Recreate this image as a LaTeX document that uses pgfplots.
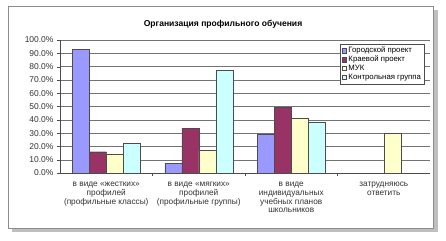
\documentclass[border=0pt]{standalone}
\usepackage{pgfplots}
\pgfplotsset{compat=1.18}
\usepackage{fontspec}
\setmainfont{Liberation Sans}
\definecolor{gorod}{HTML}{9999FF}
\definecolor{kraev}{HTML}{993366}
\definecolor{muk}{HTML}{FFFFCC}
\definecolor{kontr}{HTML}{CCFFFF}
\begin{document}
\begin{tikzpicture}[x=1bp,y=1bp]
\path[use as bounding box] (0,0) rectangle (446,240);
% frame with shadow
\fill[black!25] (12,8) rectangle (438,230);
\fill[white,draw=black!45] (8,12) rectangle (433,234);
\node[font=\bfseries\fontsize{8.6}{10}\selectfont] at (223,216) {Организация профильного обучения};
\begin{axis}[
    at={(60bp,67bp)}, anchor=south west,
    scale only axis, width=370bp, height=133bp,
    ybar=0pt, bar width=17bp,
    xmin=-0.5, xmax=3.5, ymin=0, ymax=100,
    axis lines=left, axis line style={-, black!70},
    ytick={0,10,...,100},
    yticklabel={\pgfmathprintnumber[fixed,fixed zerofill,precision=1]{\tick}\%},
    /pgf/number format/assume math mode=true,
    ymajorgrids, grid style={black!55},
    y tick style={black!70}, tick align=outside, major tick length=3bp,
    xtick={0,1,2,3},
    xticklabels={{в виде «жестких»\\профилей\\(профильные классы)},
                 {в виде «мягких»\\профилей\\(профильные группы)},
                 {в виде\\индивидуальных\\учебных планов\\школьников},
                 {затрудняюсь\\ответить}},
    x tick label style={align=center, font=\fontsize{8.3}{8.7}\selectfont, text=black!80, yshift=-3bp},
    x tick style={draw=none},
    extra x ticks={0.5,1.5,2.5},
    extra x tick labels={},
    extra x tick style={x tick style={draw=black!70}, xticklabel style={draw=none}},
    y tick label style={font=\fontsize{8.5}{10}\selectfont, text=black!80},
    legend style={at={(0.984,0.97)}, anchor=north east, font=\fontsize{7.8}{9}\selectfont,
        draw=black!70, inner sep=1bp, row sep=-2.2bp, cells={anchor=west}},
    legend image code/.code={\draw[#1,draw=black!70] (0bp,-2bp) rectangle (4.5bp,2.5bp);},
    every axis plot/.append style={draw=black!70, line width=0.4pt},
]
\addplot[fill=gorod] coordinates {(0,93) (1,7) (2,29)};
\addplot[fill=kraev] coordinates {(0,16) (1,33.5) (2,49.5)};
\addplot[fill=muk] coordinates {(0,14.5) (1,17) (2,41) (3,30)};
\addplot[fill=kontr] coordinates {(0,22.5) (1,77) (2,38.5)};
\legend{Городской проект, Краевой проект, МУК, Контрольная группа}
\end{axis}
\end{tikzpicture}
\end{document}
